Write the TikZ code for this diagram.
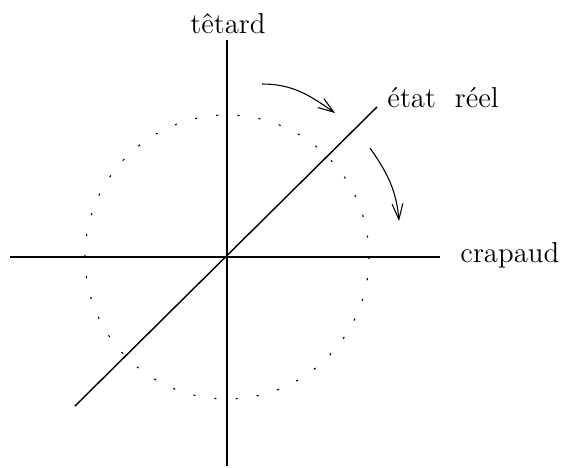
\documentclass[tikz,border=0pt]{standalone}
\usetikzlibrary{arrows.meta}
\begin{document}
\begin{tikzpicture}[x=0.4167pt,y=-0.4167pt,
  axis/.style={line width=1pt},
  diag/.style={line width=0.6pt},
  rot/.style={line width=0.45pt,-{Straight Barb[length=6.5pt,width=4.5pt]}},
  lbl/.style={inner sep=0pt,font=\fontsize{12}{14}\selectfont}]
\useasboundingbox (0,0) rectangle (567,468);
\coordinate (O) at (227,257);
\coordinate (xl) at (10,257);
\coordinate (xr) at (440,257);
\coordinate (yt) at (227,40);
\coordinate (yb) at (227,466);
\coordinate (dl) at (75,406);
\coordinate (dr) at (377,107);
\draw[axis] (xl) -- (xr);
\draw[axis] (yb) -- (yt);
\draw[diag] (dl) -- (dr);
\draw[line width=0.45pt,dash pattern={on 0.9pt off 7.95pt}] (O) circle[radius=142];
\node[lbl,anchor=base] (tetard) at (228,33) {têtard};
\node[lbl,anchor=base west] (etat) at (387,107) {état\ \ réel};
\node[lbl,anchor=base west] (crapaud) at (460,262) {crapaud};
\coordinate (a1s) at (262,84);
\coordinate (a1e) at (335,113);
\coordinate (a2s) at (370,148);
\coordinate (a2e) at (399,221);
\draw[rot] (a1s) to[out=0,in=145] (a1e);
\draw[rot] (a2s) to[out=-55,in=95] (a2e);
\end{tikzpicture}
\end{document}
